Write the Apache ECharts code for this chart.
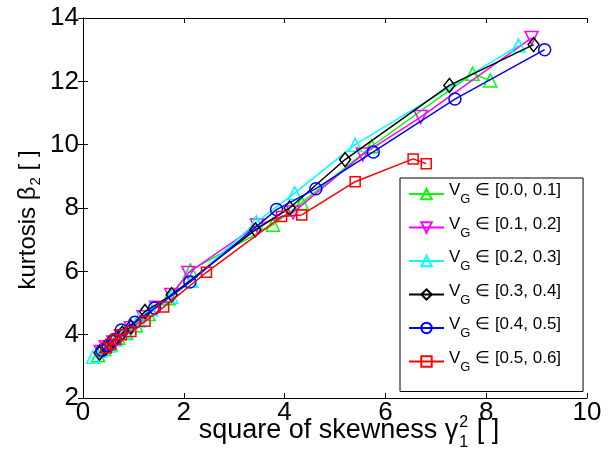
<!DOCTYPE html>
<html><head><meta charset="utf-8">
<script src="https://cdn.jsdelivr.net/npm/echarts@6/dist/echarts.min.js"></script>
<style>html,body{margin:0;padding:0;background:#fff}#c{width:608px;height:460px}</style>
</head><body><div id="c"></div>
<script>
// ---- data ----
const xTicks = [0, 2, 4, 6, 8, 10];
const yTicks = [2, 4, 6, 8, 10, 12, 14];
const legendRanges = ['[0.0, 0.1]', '[0.1, 0.2]', '[0.2, 0.3]', '[0.3, 0.4]', '[0.4, 0.5]', '[0.5, 0.6]'];

const g01x = [0.30, 0.42, 0.55, 0.70, 0.85, 1.05, 1.30, 1.70, 2.13, 3.77, 4.34, 5.73, 7.73, 8.08];
const g01y = [3.35, 3.55, 3.70, 3.90, 4.05, 4.30, 4.65, 5.15, 6.03, 7.47, 8.16, 9.95, 12.24, 12.03];

const g12x = [0.35, 0.45, 0.60, 0.75, 0.95, 1.20, 1.45, 1.75, 2.09, 3.45, 4.17, 5.55, 6.70, 8.90];
const g12y = [3.45, 3.60, 3.75, 3.95, 4.20, 4.55, 4.85, 5.25, 5.95, 7.45, 7.86, 9.69, 10.87, 13.37];

const g23x = [0.20, 0.35, 0.50, 0.65, 0.85, 1.10, 1.35, 1.75, 2.15, 3.44, 4.20, 5.40, 8.64];
const g23y = [3.30, 3.50, 3.65, 3.85, 4.10, 4.45, 4.80, 5.20, 5.70, 7.55, 8.47, 10.00, 13.13];

const g34x = [0.33, 0.45, 0.60, 0.78, 0.95, 1.23, 1.76, 3.42, 4.10, 5.20, 7.27, 8.94];
const g34y = [3.42, 3.60, 3.80, 4.05, 4.25, 4.73, 5.26, 7.31, 8.00, 9.53, 11.87, 13.16];

const g45x = [0.38, 0.50, 0.62, 0.76, 1.03, 1.42, 2.12, 3.84, 4.62, 5.76, 7.38, 9.16];
const g45y = [3.50, 3.65, 3.85, 4.15, 4.39, 4.84, 5.66, 7.95, 8.61, 9.77, 11.44, 13.00];

const g56x = [0.46, 0.55, 0.65, 0.76, 0.95, 1.23, 1.60, 2.45, 3.94, 4.34, 5.40, 6.55, 6.81];
const g56y = [3.58, 3.70, 3.85, 4.00, 4.10, 4.42, 4.87, 5.97, 7.73, 7.78, 8.83, 9.55, 9.40];

// ---- build ----
const FONT = '"Liberation Sans", Arial, sans-serif';
const seriesDefs = [
  {x: g01x, y: g01y, c: '#00ff00', sym: 'triangle', rot: 0, size: 13},
  {x: g12x, y: g12y, c: '#ff00ff', sym: 'triangle', rot: 180, size: 13},
  {x: g23x, y: g23y, c: '#00ffff', sym: 'triangle', rot: 0, size: 13},
  {x: g34x, y: g34y, c: '#000000', sym: 'diamond', rot: 0, size: 13},
  {x: g45x, y: g45y, c: '#0000ff', sym: 'circle', rot: 0, size: 12},
  {x: g56x, y: g56y, c: '#ff0000', sym: 'rect', rot: 0, size: 10}
];
const names = legendRanges.map(r => 'VG ' + r);
const series = seriesDefs.map((d, i) => ({
  name: names[i],
  type: 'line',
  xAxisIndex: 0, yAxisIndex: 0,
  data: d.x.map((v, k) => [v, d.y[k]]),
  symbol: d.sym,
  symbolRotate: d.rot,
  symbolSize: d.sym === 'diamond' ? [11, 14] : d.size,
  showAllSymbol: true,
  lineStyle: {color: d.c, width: 1.5},
  itemStyle: {color: 'rgba(255,255,255,0)', borderColor: d.c, borderWidth: 1.5},
  emphasis: {disabled: true},
  animation: false,
  z: 2 + i
}));

// text measurement for the axis title pieces
const cv = document.createElement('canvas').getContext('2d');
function tw(t, s) { cv.font = s + 'px ' + FONT; return cv.measureText(t).width; }

// x title
const XF = 27, XS = 16;
const xMain = 'square of skewness \u03b3', xTail = ' [ ]';
const wXm = tw(xMain, XF), wXs = tw('2', XS) + 2, wXt = tw(xTail, XF);
const xStart = 349 - (wXm + wXs + wXt) / 2;
// y title
const YF = 24, YS = 15;
const yMain = 'kurtosis \u03b2', yTail = ' [ ]';
const wYm = tw(yMain, YF), wYs = tw('2', YS) + 1, wYt = tw(yTail, YF);
const yStart = 220 + (wYm + wYs + wYt) / 2;
const yCx = 28;
const R = Math.PI / 2;

const tickLbl = {fontSize: 26, color: '#000', fontFamily: FONT};
const chart = echarts.init(document.getElementById('c'), null, {renderer: 'canvas'});
chart.setOption({
  backgroundColor: '#fff',
  animation: false,
  grid: {left: 83, right: 21, top: 18, bottom: 62},
  xAxis: [
    {type: 'value', min: xTicks[0], max: xTicks[xTicks.length - 1], interval: 2, position: 'bottom',
     axisLine: {lineStyle: {color: '#000', width: 1}}, axisTick: {inside: true, length: 5, lineStyle: {color: '#000'}},
     axisLabel: Object.assign({margin: 2}, tickLbl), splitLine: {show: false}},
    {type: 'value', min: xTicks[0], max: xTicks[xTicks.length - 1], interval: 2, position: 'top',
     axisLine: {lineStyle: {color: '#000', width: 1}}, axisTick: {inside: true, length: 5, lineStyle: {color: '#000'}},
     axisLabel: {show: false}, splitLine: {show: false}}
  ],
  yAxis: [
    {type: 'value', min: yTicks[0], max: yTicks[yTicks.length - 1], interval: 2, position: 'left',
     axisLine: {show: true, lineStyle: {color: '#000', width: 1}}, axisTick: {show: true, inside: true, length: 5, lineStyle: {color: '#000'}},
     axisLabel: Object.assign({margin: 4}, tickLbl), splitLine: {show: false}},
    {type: 'value', min: yTicks[0], max: yTicks[yTicks.length - 1], interval: 2, position: 'right',
     axisLine: {show: true, lineStyle: {color: '#000', width: 1}}, axisTick: {show: true, inside: true, length: 5, lineStyle: {color: '#000'}},
     axisLabel: {show: false}, splitLine: {show: false}}
  ],
  legend: {
    data: names,
    orient: 'vertical',
    left: 400, top: 178,
    padding: [4, 22, 18, 8],
    itemGap: 9.5,
    itemWidth: 35, itemHeight: 13,
    backgroundColor: '#fff',
    borderColor: '#000', borderWidth: 1,
    selectedMode: false,
    formatter: function (n) {
      const r = n.slice(3);
      return '{v|V}{g|G}{t| \u2208 ' + r + '}';
    },
    textStyle: {
      fontFamily: FONT, color: '#000',
      rich: {
        v: {fontSize: 17, fontFamily: FONT, color: '#000', lineHeight: 24, verticalAlign: 'top'},
        g: {fontSize: 13, fontFamily: FONT, color: '#000', lineHeight: 24, verticalAlign: 'bottom', padding: [10, 0, 0, 0]},
        t: {fontSize: 17, fontFamily: FONT, color: '#000', lineHeight: 24, verticalAlign: 'top'}
      }
    }
  },
  graphic: [
    {type: 'text', x: xStart, y: 431, style: {text: xMain, fontSize: XF, fontFamily: FONT, fill: '#000', verticalAlign: 'middle'}},
    {type: 'text', x: xStart + wXm + 1, y: 423, style: {text: '2', fontSize: XS, fontFamily: FONT, fill: '#000', verticalAlign: 'middle'}},
    {type: 'text', x: xStart + wXm + 1, y: 443, style: {text: '1', fontSize: XS, fontFamily: FONT, fill: '#000', verticalAlign: 'middle'}},
    {type: 'text', x: xStart + wXm + wXs, y: 431, style: {text: xTail, fontSize: XF, fontFamily: FONT, fill: '#000', verticalAlign: 'middle'}},
    {type: 'text', x: yCx, y: yStart, rotation: R, style: {text: yMain, fontSize: YF, fontFamily: FONT, fill: '#000', verticalAlign: 'middle'}},
    {type: 'text', x: yCx + 8, y: yStart - wYm - 1, rotation: R, style: {text: '2', fontSize: YS, fontFamily: FONT, fill: '#000', verticalAlign: 'middle'}},
    {type: 'text', x: yCx, y: yStart - wYm - wYs, rotation: R, style: {text: yTail, fontSize: YF, fontFamily: FONT, fill: '#000', verticalAlign: 'middle'}}
  ],
  series: series
});
</script></body></html>
